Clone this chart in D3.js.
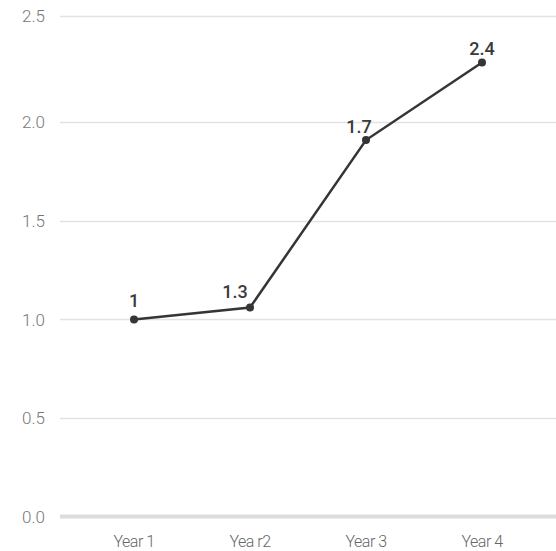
<!DOCTYPE html>
<html>
<head>
<meta charset="utf-8">
<script src="https://cdn.jsdelivr.net/npm/d3@7"></script>
<style>
  body { margin: 0; background: #fff; }
  svg { display: block; }
</style>
</head>
<body>
<script>
// chart data
var categories = ["Year 1", "Yea r2", "Year 3", "Year 4"];
var values = [1.0, 1.06, 1.91, 2.28];
var valueLabels = ["1", "1.3", "1.7", "2.4"];
var yTicks = [0, 0.5, 1.0, 1.5, 2.0, 2.5];

// frame
var width = 556,
    height = 551;

var svg = d3.select("body")
    .append("svg")
    .attr("width", width)
    .attr("height", height);

// x positions of the categories
var x = d3.scalePoint()
    .domain(categories)
    .range([76, 540])
    .padding(0.5);

// the top gridline sits a bit higher than an even step would put it
var y = d3.scaleLinear()
    .domain([0, 2, 2.5])
    .range([516.5, 122.3, 15.5]);

// gridlines
svg.append("g")
    .selectAll("line")
    .data(yTicks.slice(1))
    .enter()
    .append("line")
    .attr("x1", 60)
    .attr("x2", width)
    .attr("y1", function(d){ return Math.round(y(d)) + 0.5; })
    .attr("y2", function(d){ return Math.round(y(d)) + 0.5; })
    .attr("stroke", "#e3e3e3")
    .attr("stroke-width", 1.3);

// baseline
svg.append("line")
    .attr("x1", 60)
    .attr("x2", width)
    .attr("y1", y(0))
    .attr("y2", y(0))
    .attr("stroke", "#dcdcdc")
    .attr("stroke-width", 4);

// y tick labels
svg.append("g")
    .selectAll("text")
    .data(yTicks)
    .enter()
    .append("text")
    .attr("x", 45)
    .attr("y", function(d){ return y(d); })
    .attr("dy", "0.36em")
    .attr("text-anchor", "end")
    .style("font-family", "Roboto, sans-serif")
    .style("font-weight", 300)
    .style("font-size", "17px")
    .style("fill", "#777")
    .text(d3.format(".1f"));

// x labels
svg.append("g")
    .selectAll("text")
    .data(categories)
    .enter()
    .append("text")
    .attr("x", function(d){ return x(d); })
    .attr("y", 547)
    .attr("text-anchor", "middle")
    .style("font-family", "Roboto, sans-serif")
    .style("font-weight", 300)
    .style("font-size", "16px")
    .style("letter-spacing", "-0.5px")
    .style("fill", "#666")
    .text(function(d){ return d; });

// line
var line = d3.line()
    .x(function(d, i){ return x(categories[i]); })
    .y(function(d){ return y(d); });

svg.append("path")
    .datum(values)
    .attr("d", line)
    .attr("fill", "none")
    .attr("stroke", "#353535")
    .attr("stroke-width", 2.5);

// points
svg.append("g")
    .selectAll("circle")
    .data(values)
    .enter()
    .append("circle")
    .attr("cx", function(d, i){ return x(categories[i]); })
    .attr("cy", function(d){ return y(d); })
    .attr("r", 4)
    .attr("fill", "#353535");

// value labels, nudged off the line
var labelDx = [0, -15, -7, 0],
    labelDy = [-12, -10, -7, -7];

svg.append("g")
    .selectAll("text")
    .data(values)
    .enter()
    .append("text")
    .attr("x", function(d, i){ return x(categories[i]) + labelDx[i]; })
    .attr("y", function(d, i){ return y(d) + labelDy[i]; })
    .attr("text-anchor", "middle")
    .style("font-family", "Roboto, sans-serif")
    .style("font-weight", 500)
    .style("font-size", "18px")
    .style("fill", "#3a3a3a")
    .text(function(d, i){ return valueLabels[i]; });
</script>
</body>
</html>
